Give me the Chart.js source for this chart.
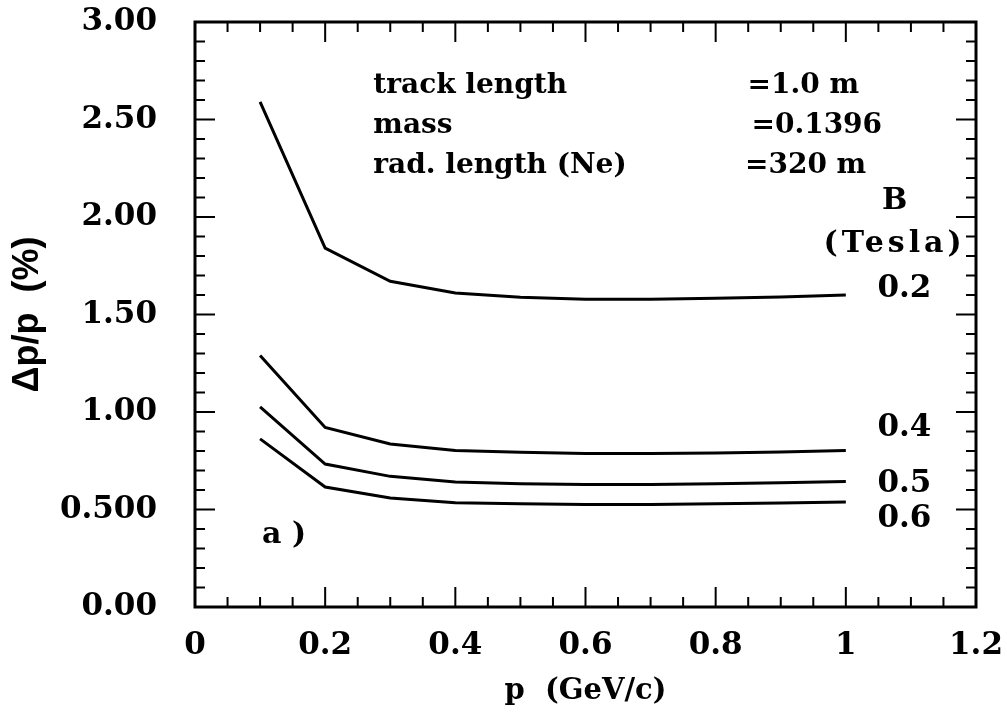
<!DOCTYPE html>
<html>
<head>
<meta charset="utf-8">
<script src="https://cdn.jsdelivr.net/npm/chart.js@4.4.1/dist/chart.umd.min.js"></script>
<style>
  html, body { margin: 0; padding: 0; background: #fff; }
  #wrap { width: 1007px; height: 719px; }
</style>
</head>
<body>
<div id="wrap"><canvas id="resChart" width="1007" height="719"></canvas></div>
<script>
// momentum points (GeV/c)
const momenta = [0.1, 0.2, 0.3, 0.4, 0.5, 0.6, 0.7, 0.8, 0.9, 1.0];

// dp/p (%) for each field value
const resB02 = [2.59, 1.84, 1.67, 1.61, 1.588, 1.578, 1.578, 1.583, 1.59, 1.60];
const resB04 = [1.29, 0.921, 0.836, 0.803, 0.793, 0.787, 0.787, 0.79, 0.795, 0.803];
const resB05 = [1.026, 0.733, 0.670, 0.641, 0.632, 0.628, 0.628, 0.632, 0.637, 0.644];
const resB06 = [0.862, 0.615, 0.559, 0.535, 0.530, 0.526, 0.526, 0.529, 0.533, 0.538];

const fieldLabels = ['0.2', '0.4', '0.5', '0.6'];

// tick labels as printed on the axes
const xTickLabels = ['0', '0.2', '0.4', '0.6', '0.8', '1', '1.2'];
const yTickLabels = ['0.00', '0.500', '1.00', '1.50', '2.00', '2.50', '3.00'];

const infoLines = ['track length', 'mass', 'rad. length (Ne)'];
const infoValues = ['=1.0 m', '=0.1396', '=320 m'];

const serif = '"DejaVu Serif", "Liberation Serif", serif';

function toPoints(ys) {
    return momenta.map((m, i) => ({ x: m, y: ys[i] }));
}

// inward ticks on all four sides, like the old plotting package did
const inwardTicks = {
    id: 'inwardTicks',
    afterDatasetsDraw(chart) {
        const { ctx, chartArea: a, scales: { x, y } } = chart;
        ctx.save();
        ctx.strokeStyle = '#000';
        ctx.lineWidth = 2;
        ctx.beginPath();
        for (let i = 0; i <= 24; i++) {
            const px = x.getPixelForValue(i * 0.05);
            const len = i % 4 === 0 ? 20 : 10;
            ctx.moveTo(px, a.bottom); ctx.lineTo(px, a.bottom - len);
            ctx.moveTo(px, a.top); ctx.lineTo(px, a.top + len);
        }
        for (let i = 0; i <= 30; i++) {
            const py = y.getPixelForValue(i * 0.1);
            const len = i % 5 === 0 ? 20 : 10;
            ctx.moveTo(a.left, py); ctx.lineTo(a.left + len, py);
            ctx.moveTo(a.right, py); ctx.lineTo(a.right - len, py);
        }
        ctx.stroke();
        ctx.lineWidth = 3;
        ctx.strokeRect(a.left, a.top, a.right - a.left, a.bottom - a.top);
        ctx.restore();
    }
};

// text written inside the frame
const plotNotes = {
    id: 'plotNotes',
    afterDraw(chart) {
        const { ctx, scales: { x, y } } = chart;
        ctx.save();
        ctx.fillStyle = '#000';
        ctx.textBaseline = 'middle';

        ctx.font = 'bold 28px ' + serif;
        ctx.textAlign = 'left';
        const rows = [2.675, 2.47, 2.265];
        infoLines.forEach((t, i) => ctx.fillText(t, x.getPixelForValue(0.274), y.getPixelForValue(rows[i])));
        const valX = [0.849, 0.855, 0.845];
        infoValues.forEach((t, i) => ctx.fillText(t, x.getPixelForValue(valX[i]), y.getPixelForValue(rows[i])));

        ctx.font = 'bold 30px ' + serif;
        ctx.textAlign = 'center';
        const cx = x.getPixelForValue(1.075);
        ctx.fillText('B', cx, y.getPixelForValue(2.08));
        ctx.letterSpacing = '4px';
        ctx.fillText('(Tesla)', cx, y.getPixelForValue(1.86));
        ctx.letterSpacing = '0px';

        ctx.font = 'bold 31px ' + serif;
        const labY = [1.63, 0.92, 0.63, 0.45];
        fieldLabels.forEach((t, i) => ctx.fillText(t, x.getPixelForValue(1.09), y.getPixelForValue(labY[i])));

        ctx.font = 'bold 30px ' + serif;
        ctx.textAlign = 'left';
        ctx.fillText('a )', x.getPixelForValue(0.103), y.getPixelForValue(0.37));
        ctx.restore();
    }
};

const lineStyle = {
    borderColor: '#000',
    borderWidth: 3,
    pointRadius: 0,
    tension: 0,
    fill: false
};

new Chart(document.getElementById('resChart'), {
    type: 'line',
    data: {
        datasets: [
            { label: 'B = 0.2 T', data: toPoints(resB02), ...lineStyle },
            { label: 'B = 0.4 T', data: toPoints(resB04), ...lineStyle },
            { label: 'B = 0.5 T', data: toPoints(resB05), ...lineStyle },
            { label: 'B = 0.6 T', data: toPoints(resB06), ...lineStyle }
        ]
    },
    options: {
        responsive: false,
        animation: false,
        layout: { padding: { left: 0, top: 22, right: 31, bottom: 0 } },
        plugins: {
            legend: { display: false },
            tooltip: { enabled: false }
        },
        scales: {
            x: {
                type: 'linear',
                min: 0,
                max: 1.2,
                grid: { display: false, drawTicks: false },
                border: { display: false },
                afterFit(scale) {
                    scale.height = 112;
                    scale.paddingLeft = 0;
                    scale.paddingRight = 0;
                },
                ticks: {
                    stepSize: 0.2,
                    padding: 20,
                    color: '#000',
                    font: { family: serif, size: 31, weight: 'bold' },
                    callback: (v) => xTickLabels[Math.round(v / 0.2)]
                },
                title: {
                    display: true,
                    text: 'p  (GeV/c)',
                    color: '#000',
                    font: { family: serif, size: 29, weight: 'bold' },
                    padding: { top: 0, bottom: 10 }
                }
            },
            y: {
                min: 0,
                max: 3,
                grid: { display: false, drawTicks: false },
                border: { display: false },
                afterFit(scale) {
                    scale.width = 195;
                    scale.paddingTop = 0;
                    scale.paddingBottom = 0;
                },
                ticks: {
                    stepSize: 0.5,
                    padding: 38,
                    color: '#000',
                    font: { family: serif, size: 31, weight: 'bold' },
                    callback: (v) => yTickLabels[Math.round(v / 0.5)]
                },
                title: {
                    display: true,
                    text: 'Δp/p  (%)',
                    color: '#000',
                    font: { family: '"Liberation Sans", Arial, sans-serif', size: 36, weight: 'bold' },
                    padding: { top: 6, bottom: 0 }
                }
            }
        }
    },
    plugins: [inwardTicks, plotNotes]
});
</script>
</body>
</html>
